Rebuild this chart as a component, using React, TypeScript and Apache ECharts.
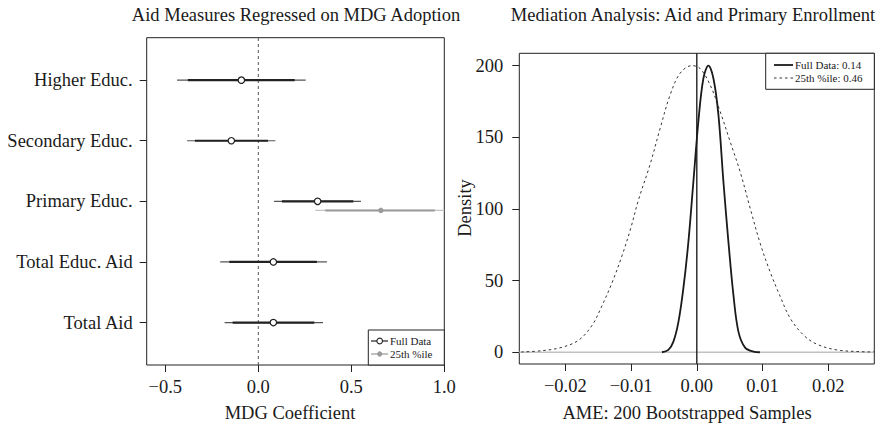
import React, { useEffect, useRef } from "react";
import * as echarts from "echarts";

// ---------- Left panel data ----------
const categories = ["Total Aid", "Total Educ. Aid", "Primary Educ.", "Secondary Educ.", "Higher Educ."];
const categoryPos = [1, 2, 3, 4, 5];
const fullEst = [0.081, 0.081, 0.319, -0.145, -0.091];
const fullLo95 = [-0.181, -0.205, 0.085, -0.383, -0.437];
const fullLo90 = [-0.138, -0.156, 0.127, -0.341, -0.379];
const fullHi90 = [0.301, 0.315, 0.511, 0.052, 0.196];
const fullHi95 = [0.348, 0.369, 0.552, 0.092, 0.255];
// 25th %ile: only Primary Educ.
const pctCategoryIdx = [2];
const pctEst = [0.659];
const pctLo95 = [0.306];
const pctLo90 = [0.36];
const pctHi90 = [0.949];
const pctHi95 = [1.0];
const leftTicks = [-0.5, 0, 0.5, 1.0];

// ---------- Right panel data ----------
const fullDensity: [number, number][] = [
  [-0.0053, 0], [-0.00432, 1.6], [-0.00356, 7.4], [-0.0028, 21], [-0.00204, 44.7],
  [-0.00128, 77], [-0.00052, 119], [0.00024, 161], [0.001, 191], [0.00177, 200],
  [0.00253, 191], [0.00329, 165.6], [0.00405, 119], [0.00481, 77], [0.00557, 40],
  [0.00633, 14.4], [0.00735, 3.2], [0.00862, 0.4], [0.0096, 0],
];
const pctDensity: [number, number][] = [
  [-0.0267, 0.2], [-0.02351, 1.1], [-0.02047, 3.5], [-0.01792, 8.6], [-0.0159, 19],
  [-0.01437, 33], [-0.01285, 49], [-0.01133, 68], [-0.01005, 86.5], [-0.00889, 106],
  [-0.00711, 131], [-0.00559, 156], [-0.00406, 179.5], [-0.00254, 194.7], [-0.00076, 200],
  [0.0005, 198], [0.00203, 186.5], [0.00355, 168], [0.00507, 147], [0.00659, 126],
  [0.00812, 100.5], [0.00964, 76], [0.01116, 56], [0.01268, 39], [0.01421, 23.7],
  [0.01623, 12], [0.01827, 5.6], [0.02132, 1.6], [0.02487, 0.4], [0.0272, 0.2],
];
const rightXTicks = [-0.02, -0.01, 0, 0.01, 0.02];
const rightYTicks = [0, 50, 100, 150, 200];
const legendFull = "Full Data: 0.14";
const legendPct = "25th %ile: 0.46";

const FONT = '"Liberation Serif", "DejaVu Serif", serif';
const TXT = "#1a1a1a";

const minus = (s: string) => s.replace("-", "\u2212");

export default function App() {
  const ref = useRef<HTMLDivElement>(null);
  useEffect(() => {
    if (!ref.current) return;
    const chart = echarts.init(ref.current, undefined, { renderer: "svg" });

    const fullData = categoryPos.map((p, i) => [p, fullLo95[i], fullLo90[i], fullEst[i], fullHi90[i], fullHi95[i]]);
    const pctData = pctCategoryIdx.map((ci, i) => [categoryPos[ci] - 0.15, pctLo95[i], pctLo90[i], pctEst[i], pctHi90[i], pctHi95[i]]);

    const makeRender = (outerColor: string, innerColor: string, innerW: number, point: any) =>
      (params: any, api: any) => {
        const y = api.value(0);
        const a = api.coord([api.value(1), y]);
        const b = api.coord([api.value(2), y]);
        const c = api.coord([api.value(3), y]);
        const d = api.coord([api.value(4), y]);
        const e = api.coord([api.value(5), y]);
        return {
          type: "group",
          children: [
            { type: "line", shape: { x1: a[0], y1: a[1], x2: e[0], y2: e[1] }, style: { stroke: outerColor, lineWidth: 1.2 } },
            { type: "line", shape: { x1: b[0], y1: b[1], x2: d[0], y2: d[1] }, style: { stroke: innerColor, lineWidth: innerW } },
            { type: "circle", shape: { cx: c[0], cy: c[1], r: point.r }, style: { fill: point.fill, stroke: point.stroke, lineWidth: point.lw } },
          ],
        };
      };

    const axisLabelBase = { fontFamily: FONT, fontSize: 18.5, color: TXT };
    const tickStyle = { show: true, length: 7, inside: false, lineStyle: { color: "#222", width: 1 } };
    const noLine = { show: false, onZero: false };
    const legendFont = `11px ${FONT}`;

    chart.setOption({
      animation: false,
      grid: [
        { left: 146.7, right: 437.7, top: 37.7, bottom: 61, show: true, borderColor: "#222", borderWidth: 1, backgroundColor: "transparent" },
        { left: 519.3, right: 7.7, top: 53.3, bottom: 62, show: true, borderColor: "#222", borderWidth: 1, backgroundColor: "transparent" },
      ],
      xAxis: [
        {
          gridIndex: 0, type: "value", min: -0.6, max: 1.0, position: "bottom",
          axisLine: noLine, splitLine: { show: false },
          axisTick: { ...tickStyle, customValues: leftTicks },
          axisLabel: { ...axisLabelBase, margin: 12, customValues: leftTicks, formatter: (v: number) => minus(v.toFixed(1)) },
        },
        {
          gridIndex: 1, type: "value", min: -0.027, max: 0.027, position: "bottom",
          axisLine: noLine, splitLine: { show: false },
          axisTick: { ...tickStyle, customValues: rightXTicks },
          axisLabel: { ...axisLabelBase, margin: 12, customValues: rightXTicks, formatter: (v: number) => minus(v.toFixed(2)) },
        },
      ],
      yAxis: [
        {
          gridIndex: 0, type: "value", min: 0.3, max: 5.7, position: "left",
          axisLine: noLine, splitLine: { show: false },
          axisTick: { ...tickStyle, customValues: categoryPos },
          axisLabel: { ...axisLabelBase, margin: 14, customValues: categoryPos, formatter: (v: number) => categories[Math.round(v) - 1] },
        },
        {
          gridIndex: 1, type: "value", min: -8.2, max: 208.6, position: "left",
          axisLine: noLine, splitLine: { show: false },
          axisTick: { ...tickStyle, customValues: rightYTicks },
          axisLabel: { ...axisLabelBase, margin: 16, customValues: rightYTicks },
        },
      ],
      series: [
        {
          type: "line", xAxisIndex: 0, yAxisIndex: 0, data: [[0, 0.3], [0, 5.7]], symbol: "none", silent: true,
          lineStyle: { color: "#555", width: 1, type: [3, 3] }, z: 1,
        },
        {
          name: "25th %ile", type: "custom", xAxisIndex: 0, yAxisIndex: 0, clip: true,
          encode: { x: [1, 2, 3, 4, 5], y: 0 }, data: pctData, z: 2,
          renderItem: makeRender("#c4c4c4", "#9a9a9a", 2, { r: 2.3, fill: "#9a9a9a", stroke: "#9a9a9a", lw: 1 }),
        },
        {
          name: "Full Data", type: "custom", xAxisIndex: 0, yAxisIndex: 0, clip: true,
          encode: { x: [1, 2, 3, 4, 5], y: 0 }, data: fullData, z: 3,
          renderItem: makeRender("#555", "#222", 2.2, { r: 3.2, fill: "#fff", stroke: "#222", lw: 1.2 }),
        },
        {
          type: "line", xAxisIndex: 1, yAxisIndex: 1, data: [[-0.027, 0], [0.027, 0]], symbol: "none", silent: true,
          lineStyle: { color: "#c2c2c2", width: 1.6 }, z: 1,
        },
        {
          type: "line", xAxisIndex: 1, yAxisIndex: 1, data: [[0, -8.2], [0, 208.6]], symbol: "none", silent: true,
          lineStyle: { color: "#222", width: 1.4 }, z: 2,
        },
        {
          name: legendPct, type: "line", xAxisIndex: 1, yAxisIndex: 1, data: pctDensity, symbol: "none", smooth: 0.35,
          lineStyle: { color: "#333", width: 1, type: [2.5, 3] }, z: 3,
        },
        {
          name: legendFull, type: "line", xAxisIndex: 1, yAxisIndex: 1, data: fullDensity, symbol: "none", smooth: 0.35,
          lineStyle: { color: "#1a1a1a", width: 1.8 }, z: 4,
        },
      ],
      graphic: [
        { type: "text", z: 10, style: { text: "Aid Measures Regressed on MDG Adoption", x: 296, y: 15, font: `18.5px ${FONT}`, fill: TXT, textAlign: "center", textVerticalAlign: "middle" } },
        { type: "text", z: 10, style: { text: "Mediation Analysis: Aid and Primary Enrollment", x: 693, y: 15, font: `18.5px ${FONT}`, fill: TXT, textAlign: "center", textVerticalAlign: "middle" } },
        { type: "text", z: 10, style: { text: "MDG Coefficient", x: 290, y: 413, font: `18.5px ${FONT}`, fill: TXT, textAlign: "center", textVerticalAlign: "middle" } },
        { type: "text", z: 10, style: { text: "AME: 200 Bootstrapped Samples", x: 687, y: 413, font: `18.5px ${FONT}`, fill: TXT, textAlign: "center", textVerticalAlign: "middle" } },
        { type: "text", z: 10, x: 465, y: 208, rotation: Math.PI / 2, style: { text: "Density", x: 0, y: 0, font: `18.5px ${FONT}`, fill: TXT, textAlign: "center", textVerticalAlign: "middle" } },
        // left legend
        { type: "rect", z: 10, shape: { x: 368.3, y: 330, width: 76, height: 35 }, style: { fill: "#fff", stroke: "#222", lineWidth: 1 } },
        { type: "line", z: 11, shape: { x1: 371, y1: 341, x2: 388, y2: 341 }, style: { stroke: "#222", lineWidth: 1.2 } },
        { type: "circle", z: 12, shape: { cx: 379.7, cy: 341, r: 2.8 }, style: { fill: "#fff", stroke: "#222", lineWidth: 1.1 } },
        { type: "text", z: 11, style: { text: "Full Data", x: 390, y: 341, font: legendFont, lineHeight: 11, fill: TXT, textAlign: "left", textVerticalAlign: "middle" } },
        { type: "line", z: 11, shape: { x1: 371, y1: 354, x2: 388, y2: 354 }, style: { stroke: "#9a9a9a", lineWidth: 1.2 } },
        { type: "circle", z: 12, shape: { cx: 379.7, cy: 354, r: 2.2 }, style: { fill: "#9a9a9a", stroke: "#9a9a9a", lineWidth: 1 } },
        { type: "text", z: 11, style: { text: "25th %ile", x: 390, y: 354, font: legendFont, lineHeight: 11, fill: TXT, textAlign: "left", textVerticalAlign: "middle" } },
        // right legend
        { type: "rect", z: 10, shape: { x: 765.7, y: 53.3, width: 108.6, height: 36 }, style: { fill: "#fff", stroke: "#222", lineWidth: 1 } },
        { type: "line", z: 11, shape: { x1: 774, y1: 65, x2: 793, y2: 65 }, style: { stroke: "#1a1a1a", lineWidth: 1.8 } },
        { type: "text", z: 11, style: { text: legendFull, x: 795, y: 65, font: legendFont, lineHeight: 11, fill: TXT, textAlign: "left", textVerticalAlign: "middle" } },
        { type: "line", z: 11, shape: { x1: 774, y1: 78, x2: 793, y2: 78 }, style: { stroke: "#333", lineWidth: 1, lineDash: [2.5, 3] } },
        { type: "text", z: 11, style: { text: legendPct, x: 795, y: 78, font: legendFont, lineHeight: 11, fill: TXT, textAlign: "left", textVerticalAlign: "middle" } },
      ],
    });
    return () => chart.dispose();
  }, []);
  return <div ref={ref} style={{ position: "fixed", left: 0, top: 0, width: 882, height: 426, background: "#fff" }} />;
}
